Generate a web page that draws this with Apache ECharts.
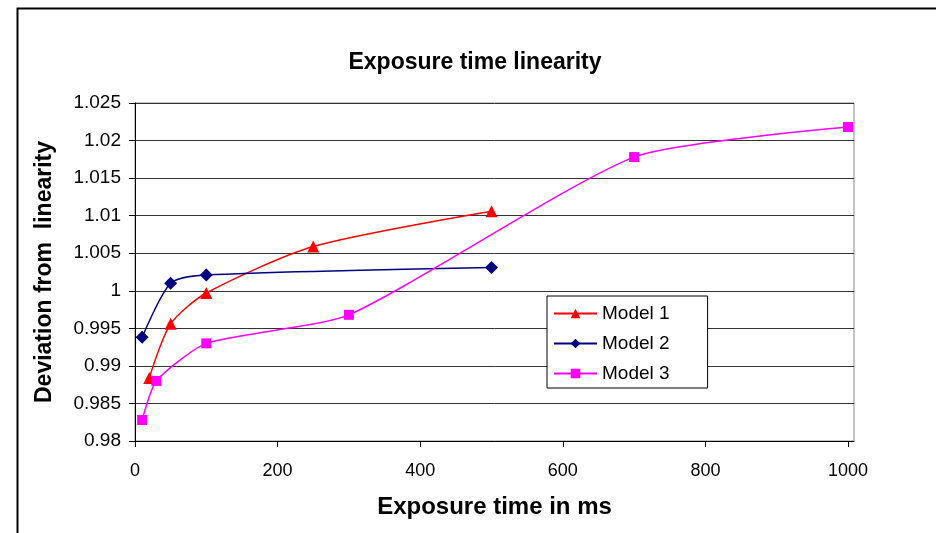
<!DOCTYPE html>
<html><head><meta charset="utf-8">
<script src="https://cdn.jsdelivr.net/npm/echarts@6/dist/echarts.min.js"></script>
<style>html,body{margin:0;padding:0;background:#fff}#c{width:936px;height:533px}</style>
</head><body><div id="c"></div>
<script>
const model1X = [20, 50, 100, 250, 500];
const model1Y = [0.9884, 0.9956, 0.9997, 1.0059, 1.0106];
const model2X = [10, 50, 100, 500];
const model2Y = [0.9938, 1.0010, 1.0021, 1.0031];
const model3X = [10, 30, 100, 300, 700, 1000];
const model3Y = [0.9828, 0.9880, 0.9930, 0.9968, 1.0178, 1.0218];
const xTicks = [0, 200, 400, 600, 800, 1000];
const seriesNames = ['Model 1', 'Model 2', 'Model 3'];

const pair = (xs, ys) => xs.map((x, i) => [x, ys[i]]);
const font = 'Liberation Sans, Arial, sans-serif';
const chart = echarts.init(document.getElementById('c'));
chart.setOption({
  backgroundColor: '#fff',
  animation: false,
  title: {
    text: 'Exposure time linearity', left: 470, top: 46, textAlign: 'center',
    textStyle: { fontFamily: font, fontWeight: 'bold', fontSize: 23, color: '#000' }
  },
  graphic: [{
    type: 'rect', shape: { x: 17.5, y: 8.5, width: 1000, height: 1000 },
    style: { fill: 'none', stroke: '#000', lineWidth: 2 }, silent: true
  }],
  grid: { left: 135, right: 82, top: 103, bottom: 92, show: true, borderColor: '#888', borderWidth: 1 },
  legend: {
    orient: 'vertical', left: 547, top: 296, width: 160,
    padding: [8, 38, 5, 6], itemGap: 11, itemWidth: 43, itemHeight: 12,
    borderColor: '#000', borderWidth: 1, backgroundColor: '#fff',
    textStyle: { fontFamily: font, fontSize: 19, color: '#000' },
    data: seriesNames
  },
  xAxis: {
    type: 'value', min: 0, max: 1008.4, interval: 200,
    name: 'Exposure time in ms', nameLocation: 'middle', nameGap: 54,
    nameTextStyle: { fontFamily: font, fontWeight: 'bold', fontSize: 24, color: '#000' },
    axisLine: { show: true, onZero: false, lineStyle: { color: '#000', width: 1 } },
    axisTick: { show: true, length: 6, lineStyle: { color: '#000' }, customValues: xTicks },
    axisLabel: { customValues: xTicks, fontFamily: font, fontSize: 18, color: '#000', margin: 21,
      formatter: v => String(Math.round(v)) },
    splitLine: { show: false }
  },
  yAxis: {
    type: 'value', min: 0.98, max: 1.025, interval: 0.005,
    name: 'Deviation from  linearity', nameLocation: 'middle', nameGap: 79, nameRotate: 90,
    nameTextStyle: { fontFamily: font, fontWeight: 'bold', fontSize: 23, color: '#000' },
    axisLine: { show: true, lineStyle: { color: '#000', width: 1 } },
    axisTick: { show: true, length: 6, lineStyle: { color: '#000' } },
    axisLabel: { fontFamily: font, fontSize: 19, color: '#000', margin: 14,
      formatter: v => String(+v.toFixed(3)) },
    splitLine: { show: true, lineStyle: { color: '#333', width: 1 } }
  },
  series: [
    { name: seriesNames[0], type: 'line', smooth: 0.25, data: pair(model1X, model1Y),
      symbol: 'triangle', symbolSize: 12, lineStyle: { color: '#ff0000', width: 1.5 },
      itemStyle: { color: '#ff0000' } },
    { name: seriesNames[1], type: 'line', smooth: 0.25, data: pair(model2X, model2Y),
      symbol: 'diamond', symbolSize: 13, lineStyle: { color: '#000080', width: 1.5 },
      itemStyle: { color: '#000080' } },
    { name: seriesNames[2], type: 'line', smooth: 0.2, data: pair(model3X, model3Y),
      symbol: 'rect', symbolSize: 10, lineStyle: { color: '#ff00ff', width: 1.5 },
      itemStyle: { color: '#ff00ff' } }
  ]
});
</script></body></html>
